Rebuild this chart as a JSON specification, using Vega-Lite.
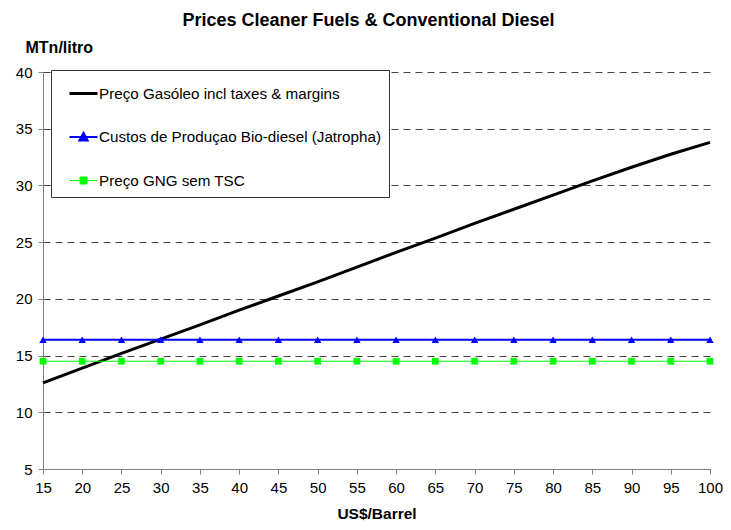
{
  "$schema": "https://vega.github.io/schema/vega-lite/v6.json",
  "width": 667,
  "height": 397,
  "autosize": {"type": "none"},
  "padding": {"left": 43, "top": 72, "right": 21, "bottom": 61},
  "background": "white",
  "config": {
    "font": "Liberation Sans",
    "view": {"stroke": null},
    "axis": {"labelFont": "Liberation Sans", "titleFont": "Liberation Sans"}
  },
  "title": {
    "text": "Prices Cleaner Fuels & Conventional Diesel",
    "font": "Liberation Sans",
    "fontSize": 18,
    "fontWeight": "bold",
    "color": "black",
    "anchor": "middle",
    "dx": -8,
    "offset": 9
  },
  "data": {
    "values": [
      {"x": 15, "series": "Preço Gasóleo incl taxes & margins", "value": 12.6},
      {"x": 20, "series": "Preço Gasóleo incl taxes & margins", "value": 13.9},
      {"x": 25, "series": "Preço Gasóleo incl taxes & margins", "value": 15.2},
      {"x": 30, "series": "Preço Gasóleo incl taxes & margins", "value": 16.45},
      {"x": 35, "series": "Preço Gasóleo incl taxes & margins", "value": 17.7},
      {"x": 40, "series": "Preço Gasóleo incl taxes & margins", "value": 19.0},
      {"x": 45, "series": "Preço Gasóleo incl taxes & margins", "value": 20.25},
      {"x": 50, "series": "Preço Gasóleo incl taxes & margins", "value": 21.5},
      {"x": 55, "series": "Preço Gasóleo incl taxes & margins", "value": 22.8},
      {"x": 60, "series": "Preço Gasóleo incl taxes & margins", "value": 24.1},
      {"x": 65, "series": "Preço Gasóleo incl taxes & margins", "value": 25.35},
      {"x": 70, "series": "Preço Gasóleo incl taxes & margins", "value": 26.65},
      {"x": 75, "series": "Preço Gasóleo incl taxes & margins", "value": 27.9},
      {"x": 80, "series": "Preço Gasóleo incl taxes & margins", "value": 29.15},
      {"x": 85, "series": "Preço Gasóleo incl taxes & margins", "value": 30.4},
      {"x": 90, "series": "Preço Gasóleo incl taxes & margins", "value": 31.6},
      {"x": 95, "series": "Preço Gasóleo incl taxes & margins", "value": 32.75},
      {"x": 100, "series": "Preço Gasóleo incl taxes & margins", "value": 33.8},
      {"x": 15, "series": "Custos de Produçao Bio-diesel (Jatropha)", "value": 16.4},
      {"x": 20, "series": "Custos de Produçao Bio-diesel (Jatropha)", "value": 16.4},
      {"x": 25, "series": "Custos de Produçao Bio-diesel (Jatropha)", "value": 16.4},
      {"x": 30, "series": "Custos de Produçao Bio-diesel (Jatropha)", "value": 16.4},
      {"x": 35, "series": "Custos de Produçao Bio-diesel (Jatropha)", "value": 16.4},
      {"x": 40, "series": "Custos de Produçao Bio-diesel (Jatropha)", "value": 16.4},
      {"x": 45, "series": "Custos de Produçao Bio-diesel (Jatropha)", "value": 16.4},
      {"x": 50, "series": "Custos de Produçao Bio-diesel (Jatropha)", "value": 16.4},
      {"x": 55, "series": "Custos de Produçao Bio-diesel (Jatropha)", "value": 16.4},
      {"x": 60, "series": "Custos de Produçao Bio-diesel (Jatropha)", "value": 16.4},
      {"x": 65, "series": "Custos de Produçao Bio-diesel (Jatropha)", "value": 16.4},
      {"x": 70, "series": "Custos de Produçao Bio-diesel (Jatropha)", "value": 16.4},
      {"x": 75, "series": "Custos de Produçao Bio-diesel (Jatropha)", "value": 16.4},
      {"x": 80, "series": "Custos de Produçao Bio-diesel (Jatropha)", "value": 16.4},
      {"x": 85, "series": "Custos de Produçao Bio-diesel (Jatropha)", "value": 16.4},
      {"x": 90, "series": "Custos de Produçao Bio-diesel (Jatropha)", "value": 16.4},
      {"x": 95, "series": "Custos de Produçao Bio-diesel (Jatropha)", "value": 16.4},
      {"x": 100, "series": "Custos de Produçao Bio-diesel (Jatropha)", "value": 16.4},
      {"x": 15, "series": "Preço GNG sem TSC", "value": 14.5},
      {"x": 20, "series": "Preço GNG sem TSC", "value": 14.5},
      {"x": 25, "series": "Preço GNG sem TSC", "value": 14.5},
      {"x": 30, "series": "Preço GNG sem TSC", "value": 14.5},
      {"x": 35, "series": "Preço GNG sem TSC", "value": 14.5},
      {"x": 40, "series": "Preço GNG sem TSC", "value": 14.5},
      {"x": 45, "series": "Preço GNG sem TSC", "value": 14.5},
      {"x": 50, "series": "Preço GNG sem TSC", "value": 14.5},
      {"x": 55, "series": "Preço GNG sem TSC", "value": 14.5},
      {"x": 60, "series": "Preço GNG sem TSC", "value": 14.5},
      {"x": 65, "series": "Preço GNG sem TSC", "value": 14.5},
      {"x": 70, "series": "Preço GNG sem TSC", "value": 14.5},
      {"x": 75, "series": "Preço GNG sem TSC", "value": 14.5},
      {"x": 80, "series": "Preço GNG sem TSC", "value": 14.5},
      {"x": 85, "series": "Preço GNG sem TSC", "value": 14.5},
      {"x": 90, "series": "Preço GNG sem TSC", "value": 14.5},
      {"x": 95, "series": "Preço GNG sem TSC", "value": 14.5},
      {"x": 100, "series": "Preço GNG sem TSC", "value": 14.5}
    ]
  },
  "encoding": {
    "x": {
      "field": "x",
      "type": "quantitative",
      "scale": {"domain": [15, 100], "nice": false, "zero": false},
      "axis": {
        "title": "US$/Barrel",
        "titleFontSize": 15.5,
        "titleFontWeight": "bold",
        "titleColor": "black",
        "titlePadding": 11,
        "values": [15, 20, 25, 30, 35, 40, 45, 50, 55, 60, 65, 70, 75, 80, 85, 90, 95, 100],
        "labelFontSize": 15,
        "labelColor": "black",
        "labelPadding": 6,
        "labelFlush": false,
        "domainColor": "#808080",
        "tickColor": "#808080",
        "tickSize": 5,
        "grid": false
      }
    },
    "y": {
      "field": "value",
      "type": "quantitative",
      "scale": {"domain": [5, 40], "nice": false, "zero": false},
      "axis": {
        "title": "MTn/litro",
        "titleAngle": 0,
        "titleAlign": "left",
        "titleBaseline": "alphabetic",
        "titleX": -18,
        "titleY": -20,
        "titleFontSize": 16,
        "titleFontWeight": "bold",
        "titleColor": "black",
        "values": [5, 10, 15, 20, 25, 30, 35, 40],
        "labelFontSize": 15,
        "labelColor": "black",
        "labelPadding": 6,
        "domainColor": "#808080",
        "tickColor": "#808080",
        "tickSize": 5,
        "grid": true,
        "gridColor": "#444444",
        "gridDash": [7, 5],
        "gridWidth": 1
      }
    }
  },
  "layer": [
    {
      "mark": {"type": "line", "clip": false},
      "encoding": {
        "color": {
          "field": "series",
          "type": "nominal",
          "scale": {
            "domain": ["Preço Gasóleo incl taxes & margins", "Custos de Produçao Bio-diesel (Jatropha)", "Preço GNG sem TSC"],
            "range": ["#000000", "#0000FF", "#00FF00"]
          },
          "legend": {
            "title": null,
            "orient": "none",
            "legendX": 8,
            "legendY": -2,
            "direction": "vertical",
            "strokeColor": "#333333",
            "fillColor": "white",
            "padding": 8,
            "symbolOffset": 9,
            "symbolSize": 784,
            "rowPadding": 20,
            "labelOffset": 0,
            "labelFontSize": 15.2,
            "labelColor": "black",
            "labelFont": "Liberation Sans",
            "labelLimit": 400,
            "encode": {
              "symbols": {
                "update": {
                  "shape": {"signal": "datum.value === 'Preço Gasóleo incl taxes & margins' ? 'M-1,0H1' : (datum.value === 'Preço GNG sem TSC' ? 'M-1,0H1M-0.25,-0.25H0.25V0.25H-0.25Z' : 'M-1,0H1M0,-0.3L0.3,0.25L-0.3,0.25Z')"},
                  "strokeWidth": {"signal": "datum.value === 'Preço Gasóleo incl taxes & margins' ? 3 : 1"},
                  "stroke": {"signal": "datum.value === 'Preço Gasóleo incl taxes & margins' ? '#000000' : (datum.value === 'Preço GNG sem TSC' ? '#00FF00' : '#0000FF')"},
                  "fill": {"signal": "datum.value === 'Preço Gasóleo incl taxes & margins' ? 'transparent' : (datum.value === 'Preço GNG sem TSC' ? '#00FF00' : '#0000FF')"},
                  "opacity": {"value": 1}
                }
              }
            }
          }
        },
        "strokeWidth": {
          "field": "series",
          "type": "nominal",
          "scale": {
            "domain": ["Preço Gasóleo incl taxes & margins", "Custos de Produçao Bio-diesel (Jatropha)", "Preço GNG sem TSC"],
            "range": [3, 1, 1]
          },
          "legend": null
        }
      }
    },
    {
      "transform": [{"filter": "datum.series === 'Custos de Produçao Bio-diesel (Jatropha)'"}],
      "mark": {"type": "point", "shape": "triangle-up", "filled": true, "color": "#0000FF", "size": 55, "opacity": 1, "clip": false}
    },
    {
      "transform": [{"filter": "datum.series === 'Preço GNG sem TSC'"}],
      "mark": {"type": "point", "shape": "square", "filled": true, "color": "#00FF00", "size": 45, "opacity": 1, "clip": false}
    }
  ]
}
